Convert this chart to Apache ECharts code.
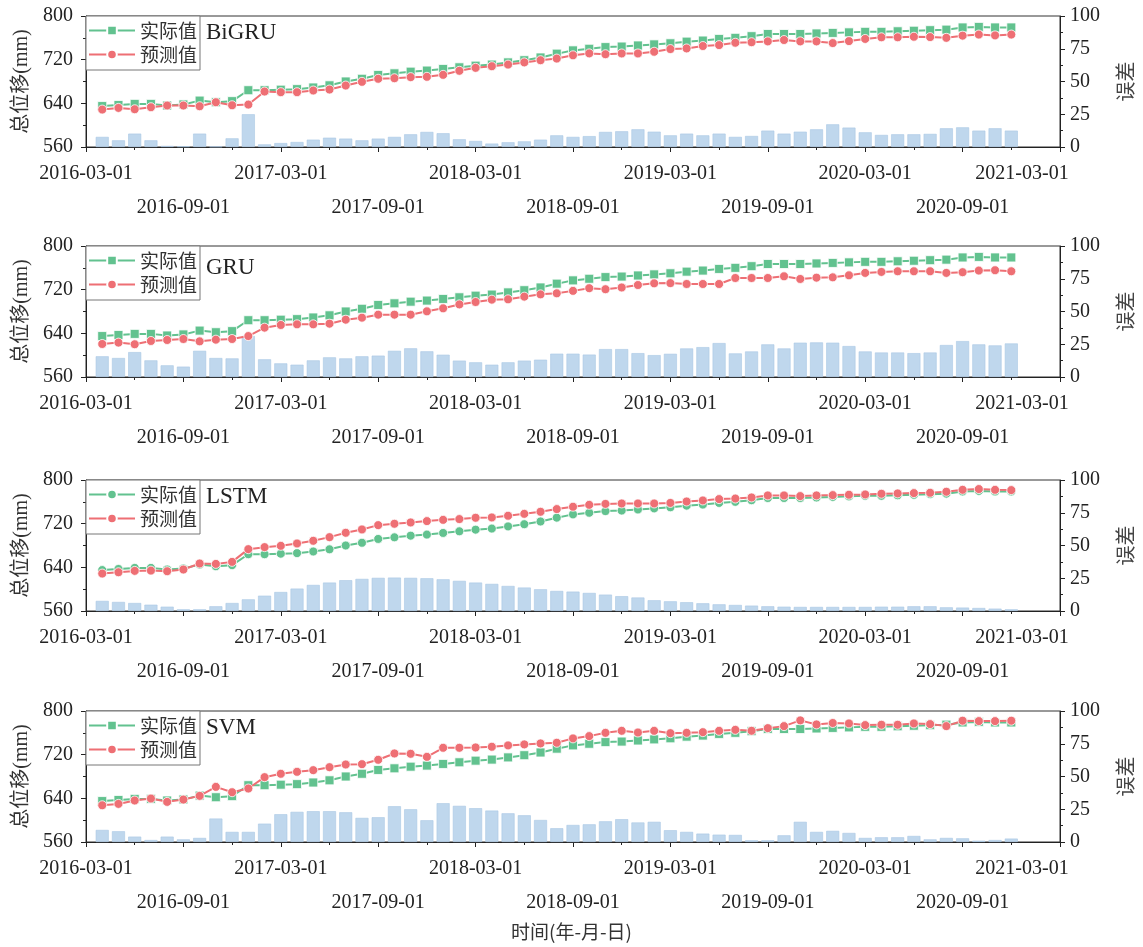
<!DOCTYPE html>
<html><head><meta charset="utf-8">
<script src="https://cdn.jsdelivr.net/npm/echarts@6/dist/echarts.min.js"></script>
<style>html,body{margin:0;padding:0;background:#fff}#c{width:1143px;height:947px}</style>
</head><body><div id="c"></div>
<script>
// ---------- data ----------
const months = ['2016-04','2016-05','2016-06','2016-07','2016-08','2016-09','2016-10','2016-11','2016-12',
 '2017-01','2017-02','2017-03','2017-04','2017-05','2017-06','2017-07','2017-08','2017-09','2017-10','2017-11','2017-12',
 '2018-01','2018-02','2018-03','2018-04','2018-05','2018-06','2018-07','2018-08','2018-09','2018-10','2018-11','2018-12',
 '2019-01','2019-02','2019-03','2019-04','2019-05','2019-06','2019-07','2019-08','2019-09','2019-10','2019-11','2019-12',
 '2020-01','2020-02','2020-03','2020-04','2020-05','2020-06','2020-07','2020-08','2020-09','2020-10','2020-11','2020-12'];
const xTickLabels = ['2016-03-01','2016-09-01','2017-03-01','2017-09-01','2018-03-01','2018-09-01',
 '2019-03-01','2019-09-01','2020-03-01','2020-09-01','2021-03-01'];
const modelNames = ['BiGRU','GRU','LSTM','SVM'];
const actual = [635,637,639,639,636,638,645,642,644,664,664,665,666,669,673,680,685,692,695,698,700,703,706,709,711,715,719,724,731,737,740,743,744,746,748,750,753,755,758,760,763,767,767,767,768,769,770,771,771,772,773,774,775,779,780,779,779];
const predBiGRU = [628.6,631.6,629.2,632.9,636,636,634.7,642,636.5,637.7,661.6,660.4,660.4,663.5,665.3,672.6,679.4,685,686,688,688.6,692.2,699.6,705,708,711,715,719,722,728,731.5,730,731.4,731.4,734.5,739.4,740.6,745,746.7,751,752,753.5,756,753.5,753.5,750.4,754,758,761,761,762,761.4,760,764,766,764.5,766];
const errBiGRU = [7.7,5.1,10.2,5.1,0.8,0.5,10.2,0.3,6.6,25,2,3,3.8,5.6,7.1,6.4,5.1,6.4,7.7,9.7,11.5,10.5,5.9,4.6,2.6,3.6,4.3,5.6,8.9,7.7,8.3,11.5,12,13.5,11.7,8.9,10.2,8.9,10.2,7.7,8.4,12.5,10.2,11.7,13.5,17.3,14.8,11.2,9.2,9.7,9.7,10,14.3,15,12.5,14.3,12.5];
const predGRU = [620.5,623,620,626,627.8,629.6,625.3,628.4,629.6,635,650.4,655.3,656.5,656.5,657.7,665,668.7,674.2,674.2,674.2,680.3,685.8,693,697.4,701.7,702.3,707.2,711.4,713.3,717.8,722.7,720.8,724,728.5,731.6,732,730.4,730.4,730.4,741.4,741.4,741.4,744.5,739.6,742,742.6,746.3,750.7,752.5,753.7,753.7,753.7,750.7,752,755,755.6,753.7];
const errGRU = [15.8,14.5,19,12.7,8.9,7.9,20,14.5,14.2,31.3,13.5,10.4,9.4,12.7,15,14.2,15.8,16.3,20,21.9,19.6,17,12.5,11.2,9.4,11.2,12.5,13.2,17.8,17.8,17.1,21.3,21.3,18.2,16.7,17.7,21.8,22.8,25.9,18,19.5,24.9,21.8,26.2,26.4,26.2,23.6,19.5,18.7,18.7,18.2,18.7,24.4,27.4,24.9,24.1,25.6];
const predLSTM = [628.6,631,633.5,634,632.9,636,647,646.3,650,673.3,677,679.4,683.7,688.6,695.3,703.3,709.4,717.3,719.8,722.2,724.7,727,728.4,730.8,731.4,734.5,738,741.8,746.7,751,754.5,756.2,757,757,757,758,760.6,762.5,765,766,768,771.7,771.7,770.5,771.7,772.3,773,773.5,774.8,775.4,776,776.6,778.5,782,783.4,782,781.5];
const errLSTM = [7.7,6.9,6.1,4.8,3.3,1.3,1.3,3.6,6.1,8.9,11.7,14.5,17.1,19.9,21.7,23.5,24.5,25.3,25.5,25.3,25,24.2,23,21.7,20.7,19.1,17.9,16.6,15.3,14.8,13.8,12.5,11.3,10.3,8.2,7.4,6.7,5.9,5.1,4.6,4.1,3.6,3.3,3.1,3.1,3.1,3.1,3.1,3.3,3.3,3.6,3.6,2.8,2.6,2.3,1.8,1.3];
const predSVM = [627.3,629.8,636,639.6,633.5,637.7,644.5,661,651.2,658,678.8,685,688.6,691.6,697.1,702,702.6,710.6,722.2,721.6,716,732.6,732.6,733.2,734.5,737,738.8,740.6,741.8,749.8,754,760,763.7,760.6,763.7,759.4,760,761.2,763.7,765.5,763.7,768.6,772.3,782.8,775.4,778,777.2,774.2,774.8,774.8,777.2,776,772.3,782.2,781.5,781.5,782.2];
const errSVM = [9.2,8.2,4.1,1.5,4.1,2,3.1,17.9,7.7,7.7,14,21.2,23,23.5,23.5,22.7,18.4,18.9,27.3,25,16.6,29.6,27.6,25.8,24,21.9,20.4,16.8,10.5,13,13.5,15.8,17.4,14.9,15.4,9,7.7,6.4,5.6,5.4,1.3,1.3,5.1,15.4,7.7,8.5,6.9,3.1,3.6,3.6,4.6,2,3.1,2.8,1,1.5,2.6];
const predictions = [predBiGRU, predGRU, predLSTM, predSVM];
const errors = [errBiGRU, errGRU, errLSTM, errSVM];

// ---------- layout / style ----------
const SERIF = '"Liberation Serif","Noto Sans CJK SC",serif';
const CJK = '"Noto Sans CJK SC","Liberation Serif",sans-serif';
const GREEN = '#62c28f', RED = '#ee6f74', BAR = '#bfd7ed';
const tops = [16, 246, 480, 711];
const nameOffsets = [16, 21, 16, 16];
const actualSymbols = ['rect','rect','circle','rect'];
const H = 131;

// month offset from 2016-03
const mx = months.map(m => { const [y, mo] = m.split('-').map(Number); return (y - 2016) * 12 + mo - 3; });

const grids = [], xAxes = [], yAxes = [], series = [], legends = [], titles = [];
tops.forEach((top, k) => {
  grids.push({left: 86, right: 75, top: top, height: H, show: true, borderColor: '#333', borderWidth: 1, containLabel: false});
  xAxes.push({
    type: 'value', gridIndex: k, min: 0, max: 60, interval: 6,
    axisLine: {lineStyle: {color: '#222', width: 1}},
    axisTick: {show: true, inside: false, length: 5, lineStyle: {color: '#222'}},
    minorTick: {show: true, splitNumber: 2, length: 3, lineStyle: {color: '#222'}},
    splitLine: {show: false},
    axisLabel: {
      show: true, margin: 17, color: '#222', fontSize: 20, fontFamily: SERIF,
      showMinLabel: true, showMaxLabel: true, hideOverlap: false,
      formatter: v => {
        const idx = Math.round(v / 6);
        const s = xTickLabels[idx];
        if (idx === xTickLabels.length - 1) return '{l|' + s + '}';
        return idx % 2 === 0 ? '{a|' + s + '}' : '{b|' + s + '}';
      },
      rich: {
        a: {fontSize: 20, fontFamily: SERIF, color: '#222'},
        b: {fontSize: 20, fontFamily: SERIF, color: '#222', padding: [34, 0, 0, 0]},
        l: {fontSize: 20, fontFamily: SERIF, color: '#222', padding: [0, 76, 0, 0]}
      }
    }
  });
  yAxes.push({
    type: 'value', gridIndex: k, position: 'left', min: 560, max: 800, interval: 80,
    name: '总位移(mm)', nameLocation: 'middle', nameRotate: 90, nameGap: 50,
    nameTextStyle: {fontSize: 20, fontFamily: SERIF, color: '#333'},
    axisLine: {show: true, lineStyle: {color: '#222'}},
    axisTick: {show: true, inside: false, length: 5, lineStyle: {color: '#222'}},
    minorTick: {show: true, splitNumber: 2, length: 3, lineStyle: {color: '#222'}},
    splitLine: {show: false},
    axisLabel: {margin: 13, fontSize: 20, fontFamily: SERIF, color: '#222'}
  });
  yAxes.push({
    type: 'value', gridIndex: k, position: 'right', min: 0, max: 100, interval: 25,
    name: '误差', nameLocation: 'middle', nameRotate: 90, nameGap: 55,
    nameTextStyle: {fontSize: 20, fontFamily: CJK, color: '#444'},
    axisLine: {show: true, lineStyle: {color: '#222'}},
    axisTick: {show: true, inside: false, length: 5, lineStyle: {color: '#222'}},
    minorTick: {show: true, splitNumber: 2, length: 3, lineStyle: {color: '#222'}},
    splitLine: {show: false},
    axisLabel: {margin: 10, fontSize: 20, fontFamily: SERIF, color: '#222'}
  });
  const nA = '实际值#' + k, nP = '预测值#' + k;
  series.push({
    type: 'bar', name: '误差#' + k, xAxisIndex: k, yAxisIndex: 2 * k + 1,
    data: errors[k].map((v, i) => [mx[i], v]), barWidth: 13, z: 1,
    itemStyle: {color: BAR, borderColor: '#a9c7e4', borderWidth: 0.6}
  });
  series.push({
    type: 'line', name: nA, xAxisIndex: k, yAxisIndex: 2 * k,
    data: actual.map((v, i) => [mx[i], v]), symbol: actualSymbols[k],
    symbolSize: 9, z: 3,
    lineStyle: {color: GREEN, width: 2}, itemStyle: {color: GREEN, borderColor: '#fff', borderWidth: 0.8}
  });
  series.push({
    type: 'line', name: nP, xAxisIndex: k, yAxisIndex: 2 * k,
    data: predictions[k].map((v, i) => [mx[i], v]), symbol: 'circle', symbolSize: 9, z: 4,
    lineStyle: {color: RED, width: 2}, itemStyle: {color: RED, borderColor: '#fff', borderWidth: 0.8}
  });
  legends.push({
    data: [nA, nP], left: 86, top: top, orient: 'vertical',
    backgroundColor: '#fff', borderColor: '#777', borderWidth: 1, borderRadius: 0,
    padding: [5, 3, 6, 2], itemGap: 5, itemWidth: 46, itemHeight: 12,
    formatter: n => n.split('#')[0], selectedMode: false,
    textStyle: {fontSize: 19, fontFamily: CJK, color: '#333'}
  });
  titles.push({
    text: modelNames[k], left: 206, top: top + nameOffsets[k] - 11, padding: 0,
    textStyle: {fontSize: 23, fontFamily: SERIF, fontWeight: 'normal', color: '#222'}
  });
});
titles.push({
  text: '时间(年-月-日)', left: 'center', top: 922, padding: 0,
  textStyle: {fontSize: 19, fontFamily: CJK, fontWeight: 'normal', color: '#333'}
});

const chart = echarts.init(document.getElementById('c'), null, {renderer: 'canvas'});
chart.setOption({
  animation: false, backgroundColor: '#fff',
  title: titles, legend: legends, grid: grids, xAxis: xAxes, yAxis: yAxes, series: series
});
</script></body></html>
